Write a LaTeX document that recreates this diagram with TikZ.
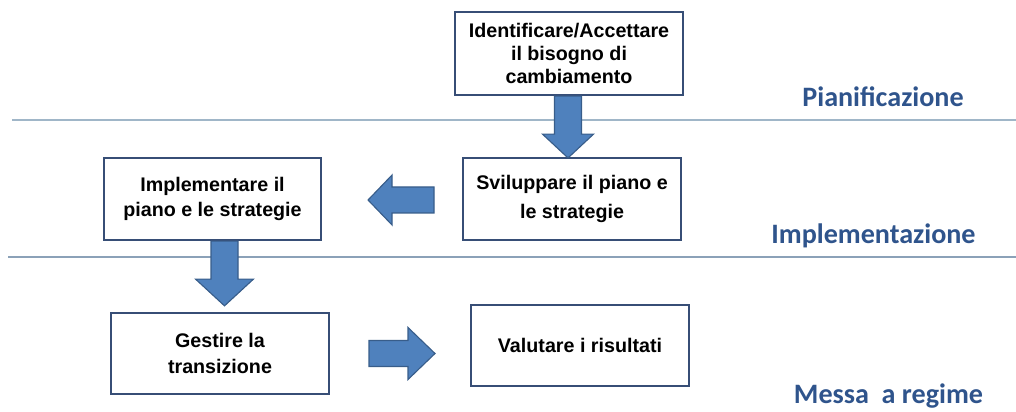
\documentclass[tikz,border=0pt]{standalone}
\usepackage{fontspec}
\setmainfont{Liberation Sans}
\newfontfamily\phasefont{Carlito}
\usepackage{tikz}
\usetikzlibrary{positioning,calc}

\definecolor{boxline}{RGB}{55,78,118}
\definecolor{arrowfill}{RGB}{79,129,189}
\definecolor{arrowline}{RGB}{56,93,138}
\definecolor{phasetext}{RGB}{47,84,140}
\definecolor{sepline}{RGB}{160,182,200}

\begin{document}
\begin{tikzpicture}[
        x=0.025cm, y=-0.025cm,
        % Define styles
        stepbox/.style={draw=boxline, line width=1.5pt, fill=white, align=center, inner sep=0pt, font=\bfseries\fontsize{14}{#1}\selectfont},
        stepbox/.default=16.5,
        blockarrow/.style={fill=arrowfill, draw=arrowline, line width=0.8pt, line join=miter},
        phase/.style={anchor=base, text=phasetext, font=\phasefont\bfseries\fontsize{20}{24}\selectfont},
        separator/.style={draw=sepline, line width=1.3pt}
      ]

      \useasboundingbox (0,0) rectangle (1016,412);

      % Phase separators
      \coordinate (sepA) at (12,120);
      \coordinate (sepB) at (8,257);
      \draw[separator] (sepA) -- (sepA -| 1016,0);
      \draw[separator, draw=sepline!80!boxline, line width=1pt] (sepB) -- (sepB -| 1016,0);

      % Phase labels
      \node[phase] (planning) at (883,107) {Pianificazione};
      \node[phase] (implementation) at (873.5,243) {Implementazione};
      \node[phase] (regime) at (888.5,403) {Messa\ \ a regime};

      % Steps
      \node[stepbox, minimum width=5.7cm, minimum height=2.08cm] (accept) at (569,53.5) {Identificare/Accettare\\il bisogno di\\cambiamento};
      \node[stepbox=20.5, minimum width=5.45cm, minimum height=2.05cm] (develop) at (572,199) {Sviluppare il piano e\\le strategie};
      \node[stepbox=18, minimum width=5.43cm, minimum height=2.05cm] (implement) at (212.5,199) {Implementare il\\piano e le strategie};
      \node[stepbox=18.5, minimum width=5.43cm, minimum height=2.03cm] (manage) at (220,353.5) {Gestire la\\transizione};
      \node[stepbox, minimum width=5.43cm, minimum height=2.03cm] (evaluate) at (580,345.5) {Valutare i risultati};

      % Block arrows between the steps
      \coordinate (arrA) at ($(accept.south)+(-1,0)$);
      \draw[blockarrow] ($(arrA)+(-13.5,0)$) -- ($(arrA)+(-13.5,38)$) -- ($(arrA)+(-25.5,38)$) --
      ($(arrA |- develop.north)+(0,1)$) -- ($(arrA)+(25.5,38)$) -- ($(arrA)+(13.5,38)$) -- ($(arrA)+(13.5,0)$) -- cycle;

      \coordinate (arrB) at ($(develop.west)!0.5!(implement.east)+(0,1)$);
      \draw[blockarrow] ($(arrB)+(42,-13)$) -- ($(arrB)+(0,-13)$) -- ($(arrB)+(0,-25)$) --
      ($(arrB)+(-24,0)$) -- ($(arrB)+(0,25)$) -- ($(arrB)+(0,13)$) -- ($(arrB)+(42,13)$) -- cycle;

      \coordinate (arrC) at ($(implement.south)+(12,0)$);
      \draw[blockarrow] ($(arrC)+(-13.5,0)$) -- ($(arrC)+(-13.5,38)$) -- ($(arrC)+(-29,38)$) --
      ($(arrC |- manage.north)+(0,-6)$) -- ($(arrC)+(29,38)$) -- ($(arrC)+(13.5,38)$) -- ($(arrC)+(13.5,0)$) -- cycle;

      \coordinate (arrD) at ($(manage.east)!0.5!(evaluate.west)+(0,4)$);
      \draw[blockarrow] ($(arrD)+(-31,-13)$) -- ($(arrD)+(8,-13)$) -- ($(arrD)+(8,-26)$) --
      ($(arrD)+(35,0)$) -- ($(arrD)+(8,26)$) -- ($(arrD)+(8,13)$) -- ($(arrD)+(-31,13)$) -- cycle;

    \end{tikzpicture}
\end{document}
